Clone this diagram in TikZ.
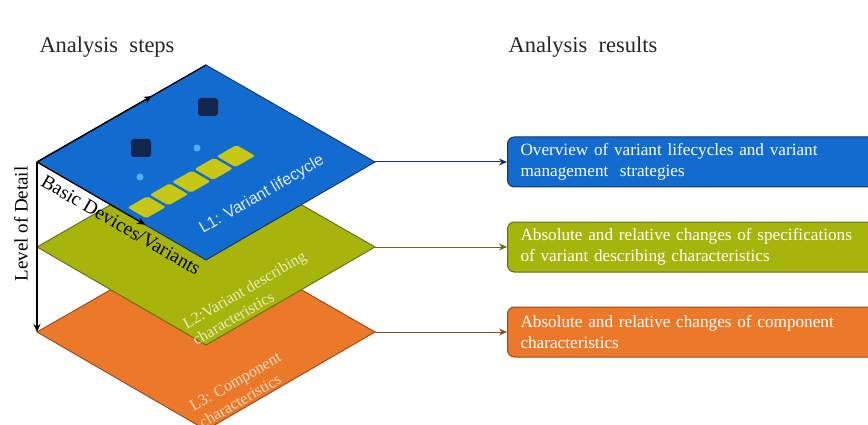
\documentclass[tikz,border=0pt]{standalone}
\usepackage{fontspec}
\setmainfont{Liberation Serif}
\newfontfamily\lsans{Liberation Sans}
\usetikzlibrary{arrows.meta,calc}
\definecolor{cblue}{RGB}{18,108,208}
\definecolor{cblueD}{RGB}{25,50,95}
\definecolor{cgreen}{RGB}{166,180,12}
\definecolor{cgreenD}{RGB}{95,110,20}
\definecolor{corange}{RGB}{236,120,42}
\definecolor{corangeD}{RGB}{150,72,22}
\definecolor{cyell}{RGB}{200,200,20}
\definecolor{cnavy}{RGB}{20,38,75}
\definecolor{cspot}{RGB}{90,170,255}
\tikzset{
  layer/.style={line width=0.9pt, line join=miter},
  resbox/.style={anchor=west, rounded corners=7pt, line width=1pt, minimum height=50pt,
    text width=360pt, align=left, inner xsep=13pt, text=white,
    font=\fontsize{17.2}{20.5}\selectfont},
  conn/.style={line width=1pt, -{Stealth[length=8pt,width=7pt]}},
  axis/.style={line width=1.2pt, black},
  title/.style={font=\fontsize{22.5}{26}\selectfont, text=black!85},
  lvl/.style={rotate=30, align=left, font=\fontsize{16}{19}\selectfont},
}
\begin{document}
\begin{tikzpicture}[x=1pt,y=-1pt]
\useasboundingbox (0,0) rectangle (868,425);
\clip (0,0) rectangle (868,425);
% corner coordinates
\coordinate (oL) at (37,332); \coordinate (oT) at (206,235); \coordinate (oR) at (375,332); \coordinate (oB) at (206,430);
\coordinate (gL) at (37,247); \coordinate (gT) at (206,150); \coordinate (gR) at (375,247); \coordinate (gB) at (206,345);
\coordinate (bL) at (37,162); \coordinate (bT) at (206,65);  \coordinate (bR) at (375,162); \coordinate (bB) at (206,260);
% layers
\filldraw[layer, fill=corange, draw=corangeD] (oL) -- (oT) -- (oR) -- (oB) -- cycle;
\filldraw[layer, fill=cgreen, draw=cgreenD] (gL) -- (gT) -- (gR) -- (gB) -- cycle;
\filldraw[layer, fill=cblue, draw=cblueD] (bL) -- (bT) -- (bR) -- (bB) -- cycle;
% icons on L1 plane
\begin{scope}[shift={(bL)}, x={(169pt,97pt)}, y={(169pt,-98pt)}]
  \foreach \k in {0,...,4}{
    \pgfmathsetmacro{\aa}{0.094+0.132*\k-0.058}
    \pgfmathsetmacro{\ab}{0.094+0.132*\k+0.058}
    \fill[cyell, rounded corners=2pt] (\aa,0.50) -- (\ab,0.50) -- (\ab,0.61) -- (\aa,0.61) -- cycle;
  }
\end{scope}
\fill[cnavy, rounded corners=3pt] (131,139) rectangle (151,157);
\fill[cnavy, rounded corners=3pt] (198,98) rectangle (218,116);
\fill[cspot] (140,177) circle (3.5pt);
\fill[cspot] (197,148) circle (3.5pt);
% level labels
\node[lvl, font=\lsans\fontsize{16.2}{19}\selectfont, text={rgb,255:red,225;green,238;blue,255}] (l1) at (262,195) {L1: Variant lifecycle};
\node[lvl, text={rgb,255:red,232;green,236;blue,195}] (l2) at (249,298) {L2:Variant describing\\characteristics};
\node[lvl, text={rgb,255:red,252;green,222;blue,195}] (l3) at (240,390) {L3: Component\\characteristics};
% axes
\draw[axis] (bL) -- (bT);
\draw[axis, -{Stealth[length=8pt,width=7pt]}] (bL) -- ($(bL)!0.68!(bT)$);
\draw[axis, -{Stealth[length=8pt,width=7pt]}] (bL) -- ($(bL)!0.64!(bB)$);
\draw[axis, -{Stealth[length=8pt,width=7pt]}] (bL) -- (oL);
\node[rotate=90, font=\fontsize{19}{22}\selectfont] (lod) at (21,224) {Level of Detail};
\node[rotate=-30, font=\fontsize{19.5}{22}\selectfont] (bdv) at (121,225) {Basic Devices/Variants};
% titles
\node[title] (t1) at (107,47) {Analysis\ \ steps};
\node[title] (t2) at (583,47) {Analysis\ \ results};
% result boxes
\node[resbox, fill=cblue, draw=cblueD] (r1) at (507,162) {Overview of variant lifecycles and variant\\management\ \ strategies};
\node[resbox, fill=cgreen, draw=cgreenD] (r2) at (507,247) {Absolute and relative changes of specifications\\of variant describing characteristics};
\node[resbox, fill=corange, draw=corangeD] (r3) at (507,332) {Absolute and relative changes of component\\characteristics};
% connectors
\draw[conn, draw=cblueD] (bR) -- (r1.west);
\draw[conn, draw=cgreenD] (gR) -- (r2.west);
\draw[conn, draw=corangeD] (oR) -- (r3.west);
\end{tikzpicture}
\end{document}
